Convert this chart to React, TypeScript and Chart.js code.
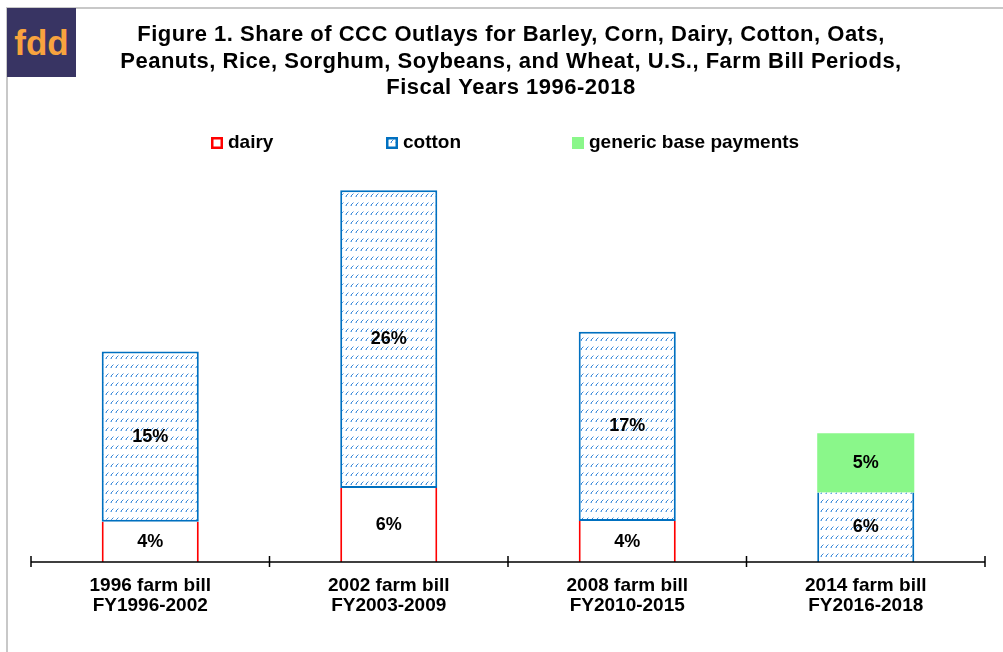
import React, { useEffect, useRef } from "react";
import { Chart, registerables } from "chart.js";

Chart.register(...registerables);

const titleLines = [
  "Figure 1. Share of CCC Outlays for Barley, Corn, Dairy, Cotton, Oats,",
  "Peanuts, Rice, Sorghum, Soybeans, and Wheat, U.S., Farm Bill Periods,",
  "Fiscal Years 1996-2018",
];

const categories = [
  ["1996 farm bill", "FY1996-2002"],
  ["2002 farm bill", "FY2003-2009"],
  ["2008 farm bill", "FY2010-2015"],
  ["2014 farm bill", "FY2016-2018"],
];

const seriesNames = ["dairy", "cotton", "generic base payments"];

// share of CCC outlays (%)
const dairyValues = [3.6, 6.6, 3.65, null];
const cottonValues = [15.2, 26.6, 16.9, 6.2];
const genericValues = [null, null, null, 5.3];

// printed data labels
const dairyLabels = ["4%", "6%", "4%", ""];
const cottonLabels = ["15%", "26%", "17%", "6%"];
const genericLabels = ["", "", "", "5%"];

const yMax = 35;

const RED = "#FF0000";
const BLUE = "#0070C0";
const GREEN = "#8AF78A";
const FONT = "Arial, 'Liberation Sans', sans-serif";

function makePattern(): CanvasPattern | string {
  const c = document.createElement("canvas");
  c.width = 5;
  c.height = 9;
  const g = c.getContext("2d");
  if (!g) return "#ffffff";
  g.fillStyle = "#ffffff";
  g.fillRect(0, 0, 5, 9);
  g.fillStyle = "#a9cdf0";
  g.fillRect(0, 7, 1, 1);
  g.fillRect(3, 4, 1, 1);
  g.fillStyle = "#3a88d8";
  g.fillRect(1, 6, 1, 1);
  g.fillRect(2, 5, 1, 1);
  g.fillStyle = "#6aa8e6";
  g.fillRect(1, 7, 1, 1);
  return g.createPattern(c, "repeat") || "#ffffff";
}

export default function App() {
  const ref = useRef<HTMLCanvasElement | null>(null);

  useEffect(() => {
    if (!ref.current) return;
    const pattern = makePattern();
    const labelSets = [dairyLabels, cottonLabels, genericLabels];

    const titlePlugin = {
      id: "spacedTitle",
      afterDraw(chart: any) {
        const ctx = chart.ctx;
        const cx = (chart.chartArea.left + chart.chartArea.right) / 2;
        ctx.save();
        ctx.font = `bold 22px ${FONT}`;
        (ctx as any).letterSpacing = "0.5px";
        ctx.fillStyle = "#000000";
        ctx.textAlign = "center";
        ctx.textBaseline = "middle";
        titleLines.forEach((t, i) => {
          ctx.fillText(t, cx + 3, 35 + i * 26.7);
        });
        ctx.restore();
      },
    };

    const dataLabelPlugin = {
      id: "dataLabels",
      afterDatasetsDraw(chart: any) {
        const ctx = chart.ctx;
        ctx.save();
        ctx.font = `bold 18px ${FONT}`;
        ctx.fillStyle = "#000000";
        ctx.textAlign = "center";
        ctx.textBaseline = "middle";
        chart.data.datasets.forEach((ds: any, di: number) => {
          const meta = chart.getDatasetMeta(di);
          meta.data.forEach((el: any, i: number) => {
            const v = ds.data[i];
            const t = labelSets[di][i];
            if (v == null || !t) return;
            ctx.fillText(t, el.x, (el.y + el.base) / 2);
          });
        });
        ctx.restore();
      },
    };

    const axisPlugin = {
      id: "axisLine",
      afterDatasetsDraw(chart: any) {
        const { ctx, chartArea } = chart;
        const y = chartArea.bottom;
        const n = categories.length;
        const w = (chartArea.right - chartArea.left) / n;
        ctx.save();
        ctx.strokeStyle = "#000000";
        ctx.lineWidth = 1.5;
        ctx.beginPath();
        ctx.moveTo(chartArea.left, y);
        ctx.lineTo(chartArea.right, y);
        for (let i = 0; i <= n; i++) {
          const x = chartArea.left + i * w;
          ctx.moveTo(x, y - 6);
          ctx.lineTo(x, y + 5);
        }
        ctx.stroke();
        ctx.restore();
      },
    };

    const legendPos = [211, 386, 572];
    const legendPlugin = {
      id: "customLegend",
      afterDraw(chart: any) {
        const ctx = chart.ctx;
        const y = 143;
        const fills = ["#ffffff", pattern, GREEN];
        const strokes = [RED, BLUE, null];
        ctx.save();
        seriesNames.forEach((name, i) => {
          const x = legendPos[i];
          ctx.fillStyle = fills[i];
          ctx.fillRect(x, y - 6, 12, 12);
          if (strokes[i]) {
            ctx.strokeStyle = strokes[i];
            ctx.lineWidth = 2.5;
            ctx.strokeRect(x + 1.25, y - 4.75, 9.5, 9.5);
          }
          ctx.fillStyle = "#000000";
          ctx.font = `bold 19px ${FONT}`;
          ctx.textAlign = "left";
          ctx.textBaseline = "middle";
          ctx.fillText(name, x + 17, y);
        });
        ctx.restore();
      },
    };

    const chart = new Chart(ref.current, {
      type: "bar",
      data: {
        labels: categories,
        datasets: [
          {
            label: seriesNames[0],
            data: dairyValues,
            backgroundColor: "#ffffff",
            borderColor: RED,
            borderWidth: { top: 0, left: 2, right: 2, bottom: 0 },
            borderSkipped: false,
          },
          {
            label: seriesNames[1],
            data: cottonValues,
            backgroundColor: pattern as any,
            borderColor: BLUE,
            borderWidth: (c: any) => ({
              top: genericValues[c.dataIndex] != null ? 0 : 2,
              left: 2,
              right: 2,
              bottom: dairyValues[c.dataIndex] != null ? 2 : 0,
            }),
            borderSkipped: false,
          },
          {
            label: seriesNames[2],
            data: genericValues,
            backgroundColor: GREEN,
            borderWidth: 0,
          },
        ],
      } as any,
      options: {
        animation: false,
        responsive: false,
        devicePixelRatio: 1,
        layout: { padding: { left: 31, right: 18, top: 170, bottom: 22 } },
        datasets: {
          bar: { barPercentage: 0.407, categoryPercentage: 1 },
        } as any,
        scales: {
          x: {
            stacked: true,
            grid: { display: false, drawTicks: false },
            border: { display: false },
            ticks: {
              color: "#000000",
              padding: 14,
              font: { family: FONT, size: 19, weight: "bold", lineHeight: 20 / 19 },
              maxRotation: 0,
              autoSkip: false,
            },
          },
          y: {
            stacked: true,
            display: false,
            min: 0,
            max: yMax,
          },
        },
        plugins: {
          legend: { display: false },
          tooltip: { enabled: false },
          title: { display: false },
        },
      } as any,
      plugins: [dataLabelPlugin, axisPlugin, legendPlugin, titlePlugin],
    });

    return () => chart.destroy();
  }, []);

  return (
    <div
      style={{
        position: "fixed",
        left: 0,
        top: 0,
        width: 1003,
        height: 652,
        background: "#ffffff",
        overflow: "hidden",
      }}
    >
      <canvas ref={ref} width={1003} height={652} style={{ position: "absolute", left: 0, top: 0 }} />
      <div
        style={{
          position: "absolute",
          left: 6,
          top: 7,
          width: 1003,
          height: 652,
          borderTop: "2px solid #c8c8c8",
          borderLeft: "2px solid #c8c8c8",
          pointerEvents: "none",
        }}
      />
      <div
        style={{
          position: "absolute",
          left: 7,
          top: 8,
          width: 69,
          height: 69,
          background: "#383463",
          color: "#F8A33E",
          fontFamily: FONT,
          fontWeight: "bold",
          fontSize: 35,
          lineHeight: "69px",
          textAlign: "center",
        }}
      >
        fdd
      </div>
    </div>
  );
}
